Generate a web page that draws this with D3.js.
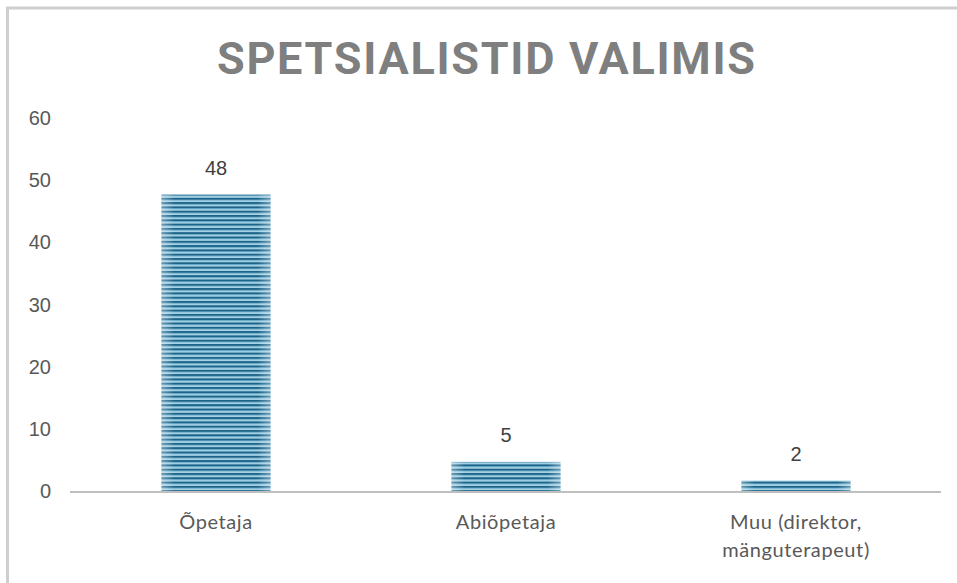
<!DOCTYPE html>
<html><head><meta charset="utf-8">
<script src="https://cdn.jsdelivr.net/npm/d3@7"></script>
<style>body{margin:0;background:#fff}svg{display:block}</style>
</head><body>
<script>
const title = "SPETSIALISTID VALIMIS";
const categories = [["Õpetaja"], ["Abiõpetaja"], ["Muu (direktor,", "mänguterapeut)"]];
const values = [48, 5, 2];
const yTicks = [0, 10, 20, 30, 40, 50, 60];

(function () {
const W = 957, H = 583;
const svg = d3.select("body").append("svg").attr("width", W).attr("height", H);

const defs = svg.append("defs");
const pat = defs.append("pattern").attr("id", "stripes").attr("patternUnits", "userSpaceOnUse")
  .attr("width", 8).attr("height", 4.3);
pat.append("rect").attr("width", 8).attr("height", 4.3).attr("fill", "#a6d3e6");
pat.append("rect").attr("y", 0).attr("width", 8).attr("height", 1.9).attr("fill", "#1d6388");
pat.append("rect").attr("y", 1.9).attr("width", 8).attr("height", 0.8).attr("fill", "#5c9fbf");
const grad = defs.append("linearGradient").attr("id", "edge").attr("x1", 0).attr("x2", 1).attr("y1", 0).attr("y2", 0);
grad.append("stop").attr("offset", 0).attr("stop-color", "#ffffff").attr("stop-opacity", 0.35);
grad.append("stop").attr("offset", 0.12).attr("stop-color", "#ffffff").attr("stop-opacity", 0);
grad.append("stop").attr("offset", 0.88).attr("stop-color", "#ffffff").attr("stop-opacity", 0);
grad.append("stop").attr("offset", 1).attr("stop-color", "#ffffff").attr("stop-opacity", 0.35);

// frame
svg.append("path").attr("d", `M7.5,${H} V8 H${W}`).attr("fill", "none").attr("stroke", "#cfcfcf").attr("stroke-width", 3);

const pl = 71, pr = 941, pt = 118, pb = 491;
const x = d3.scaleBand().domain(d3.range(categories.length)).range([pl, pr]).paddingInner(0.624).paddingOuter(0.312);
const y = d3.scaleLinear().domain([0, 60]).range([pb, pt]);

svg.append("text").text(title).attr("x", 486).attr("y", 74)
  .attr("text-anchor", "middle").attr("font-family", "Roboto, 'DejaVu Sans', sans-serif")
  .attr("font-weight", 700).attr("font-size", 45).attr("fill", "#7f7f7f")
  .attr("textLength", 538).attr("lengthAdjust", "spacing");

svg.append("g").selectAll("text").data(yTicks).join("text")
  .attr("x", 51).attr("y", d => y(d)).attr("dy", "0.35em").attr("text-anchor", "end")
  .attr("font-family", "'Liberation Sans', Arial, sans-serif").attr("font-size", 20).attr("fill", "#595959")
  .text(d => d);

const bars = svg.append("g");
bars.selectAll("rect.b").data(values).join("rect").attr("class", "b")
  .attr("x", (d, i) => x(i)).attr("width", x.bandwidth())
  .attr("y", d => y(d) + 2).attr("height", d => pb - y(d) - 2).attr("fill", "url(#stripes)");
bars.selectAll("rect.g").data(values).join("rect").attr("class", "g")
  .attr("x", (d, i) => x(i)).attr("width", x.bandwidth())
  .attr("y", d => y(d) + 2).attr("height", d => pb - y(d) - 2).attr("fill", "url(#edge)");

svg.append("line").attr("x1", pl - 1).attr("x2", pr).attr("y1", pb + 1).attr("y2", pb + 1)
  .attr("stroke", "#bfbfbf").attr("stroke-width", 2);

svg.append("g").selectAll("text").data(values).join("text")
  .attr("x", (d, i) => x(i) + x.bandwidth() / 2).attr("y", d => y(d) - 18)
  .attr("text-anchor", "middle").attr("font-family", "'Liberation Sans', Arial, sans-serif")
  .attr("font-size", 20).attr("fill", "#404040").text(d => d);

const cat = svg.append("g").selectAll("text").data(categories).join("text")
  .attr("x", (d, i) => x(i) + x.bandwidth() / 2).attr("y", 529)
  .attr("text-anchor", "middle").attr("font-family", "Lato, 'Open Sans', sans-serif")
  .attr("font-size", 20).attr("letter-spacing", 0.6).attr("fill", "#595959");
cat.selectAll("tspan").data((d, i) => d.map(t => ({t, i}))).join("tspan")
  .attr("x", d => x(d.i) + x.bandwidth() / 2).attr("dy", (d, j) => j ? 28 : 0).text(d => d.t);
})();
</script>
</body></html>
